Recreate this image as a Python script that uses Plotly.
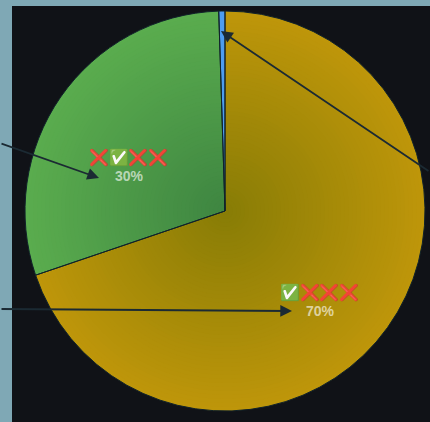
import plotly.graph_objects as go

W, H = 430, 422

# Data
labels = ["✅❌❌❌", "❌✅❌❌", "❌❌✅❌"]
values = [69.8, 29.7, 0.5]
percent_labels = ["70%", "30%"]

# Style
inner_colors = [(135, 124, 6), (62, 133, 65), (77, 156, 240)]
outer_colors = [(190, 150, 10), (90, 172, 78), (77, 156, 240)]
RINGS = 50
CX, CY, R = 225, 211, 200


def mix(a, b, t):
    return "rgb(%d,%d,%d)" % tuple(round(p + (q - p) * t) for p, q in zip(a, b))


fig = go.Figure()
for i in range(RINGS):
    t = 1 - i / RINGS
    r = R * t
    fig.add_trace(go.Pie(
        labels=labels, values=values, sort=False, direction="clockwise", rotation=0,
        domain=dict(x=[(CX - r) / W, (CX + r) / W], y=[(H - CY - r) / H, (H - CY + r) / H]),
        marker=dict(colors=[mix(c0, c1, t) for c0, c1 in zip(inner_colors, outer_colors)],
                    line=dict(width=0)),
        textinfo="none", hoverinfo="label+percent", showlegend=False,
    ))
fig.add_trace(go.Pie(
    labels=labels, values=values, sort=False, direction="clockwise", rotation=0,
    domain=dict(x=[(CX - R) / W, (CX + R) / W], y=[(H - CY - R) / H, (H - CY + R) / H]),
    marker=dict(colors=["rgba(0,0,0,0)"] * 3, line=dict(color="#10222a", width=1)),
    textinfo="none", hoverinfo="skip", showlegend=False,
))


def px(x):
    return x / W


def py(y):
    return 1 - y / H


annotations = []
for text, pct, x, y in [(labels[0], percent_labels[0], 320, 292), (labels[1], percent_labels[1], 129, 157)]:
    annotations.append(dict(text=text, x=px(x), y=py(y), xref="paper", yref="paper", showarrow=False,
                            xanchor="center", yanchor="middle",
                            font=dict(size=16, family="Liberation Sans, Noto Color Emoji", color="#ddd")))
    annotations.append(dict(text="<b>%s</b>" % pct, x=px(x), y=py(y + 19), xref="paper", yref="paper",
                            showarrow=False, xanchor="center", yanchor="middle",
                            font=dict(size=14, family="Liberation Sans", color="rgba(255,255,255,0.62)")))
for hx, hy, tx, ty in [(99, 178, -2, 143), (292, 311, -2, 309), (221, 31, 430, 172)]:
    annotations.append(dict(text="", x=px(hx), y=py(hy), xref="paper", yref="paper",
                            ax=tx - hx, ay=ty - hy, axref="pixel", ayref="pixel", showarrow=True,
                            arrowhead=2, arrowsize=1.3, arrowwidth=1.8, arrowcolor="#1b2a33", standoff=0))

fig.update_layout(
    width=W, height=H, margin=dict(l=0, r=0, t=0, b=0),
    paper_bgcolor="#7fa8b5",
    shapes=[dict(type="rect", xref="paper", yref="paper", x0=12 / W, x1=1, y0=0, y1=1 - 6 / H,
                 fillcolor="#101217", line=dict(width=0), layer="below")],
    annotations=annotations,
)
fig.write_html("out.html", config=dict(displayModeBar=False),
               post_script="document.body.style.margin='0';document.documentElement.style.overflow='hidden';")
